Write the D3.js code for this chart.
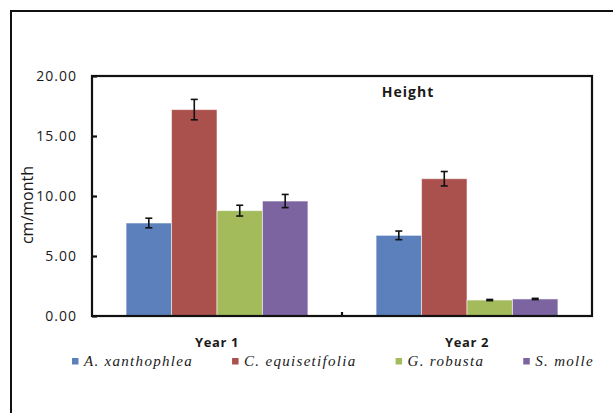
<!DOCTYPE html>
<html>
<head>
<meta charset="utf-8">
<script src="https://cdn.jsdelivr.net/npm/d3@7"></script>
<style>
  body { margin: 0; background: #fff; }
  svg text { font-family: "Open Sans", sans-serif; fill: #1a1a1a; }
</style>
</head>
<body>
<div id="chart"></div>
<script>
// data
const years = ["Year 1", "Year 2"];
const species = ["A. xanthophlea", "C. equisetifolia", "G. robusta", "S. molle"];
const speciesColors = ["#5b80bb", "#aa504d", "#a4bb5c", "#7b64a0"];
const year1Values = [7.75, 17.2, 8.78, 9.58];
const year1Errors = [0.4, 0.85, 0.45, 0.55];
const year2Values = [6.72, 11.44, 1.33, 1.42];
const year2Errors = [0.36, 0.6, 0.05, 0.05];
const yTicks = [0, 5, 10, 15, 20];
const yLabel = "cm/month";
const chartTitle = "Height";

const W = 613, H = 413;
const plot = { left: 92, right: 592, top: 76, bottom: 316 };

const svg = d3.select("#chart").append("svg")
  .attr("width", W).attr("height", H);

// outer frame (runs off the right and bottom edge)
svg.append("path")
  .attr("d", `M11,${H + 5}V11H${W + 5}`)
  .attr("fill", "none").attr("stroke", "#111").attr("stroke-width", 2);

const x = d3.scaleBand().domain(years).range([plot.left, plot.right]);
const xs = d3.scaleBand().domain(species).range([0, x.bandwidth()])
  .paddingInner(0).paddingOuter(0.75);
const y = d3.scaleLinear().domain([0, 20]).range([plot.bottom, plot.top]);

const rows = [];
years.forEach((yr, i) => {
  const vals = i === 0 ? year1Values : year2Values;
  const errs = i === 0 ? year1Errors : year2Errors;
  species.forEach((sp, j) => rows.push({ year: yr, sp, value: vals[j], err: errs[j], color: speciesColors[j] }));
});

// bars
svg.append("g").selectAll("rect").data(rows).join("rect")
  .attr("x", d => x(d.year) + xs(d.sp))
  .attr("width", xs.bandwidth())
  .attr("y", d => y(d.value))
  .attr("height", d => y(0) - y(d.value))
  .attr("fill", d => d.color)
  .attr("stroke", "rgba(255,255,255,0.55)")
  .attr("stroke-width", 1);

// error bars
const eb = svg.append("g").attr("stroke", "#111").attr("stroke-width", 1.6);
rows.forEach(d => {
  const cx = x(d.year) + xs(d.sp) + xs.bandwidth() / 2;
  const y1 = y(d.value + d.err), y2 = y(d.value - d.err);
  eb.append("line").attr("x1", cx).attr("x2", cx).attr("y1", y1).attr("y2", y2);
  eb.append("line").attr("x1", cx - 3.5).attr("x2", cx + 3.5).attr("y1", y1).attr("y2", y1);
  eb.append("line").attr("x1", cx - 3.5).attr("x2", cx + 3.5).attr("y1", y2).attr("y2", y2);
});

// plot area border
svg.append("rect")
  .attr("x", plot.left).attr("y", plot.top)
  .attr("width", plot.right - plot.left).attr("height", plot.bottom - plot.top)
  .attr("fill", "none").attr("stroke", "#111").attr("stroke-width", 2.2);

// y axis: ticks inside, labels outside
const yAxis = svg.append("g").attr("transform", `translate(${plot.left},0)`)
  .call(d3.axisRight(y).tickValues(yTicks).tickSize(5).tickFormat(""));
yAxis.select(".domain").remove();
yAxis.selectAll("line").attr("stroke", "#111").attr("stroke-width", 2.2);
svg.append("g").selectAll("text").data(yTicks).join("text")
  .attr("x", plot.left - 15).attr("y", d => y(d) + 5)
  .attr("text-anchor", "end")
  .style("font-size", "14px").style("letter-spacing", "1px")
  .text(d => d3.format(".2f")(d));

// x axis: tick between the categories, labels below
svg.append("g").selectAll("line").data(years.slice(1)).join("line")
  .attr("x1", d => x(d)).attr("x2", d => x(d))
  .attr("y1", plot.bottom).attr("y2", plot.bottom - 4)
  .attr("stroke", "#111").attr("stroke-width", 2.2);
svg.append("g").selectAll("text").data(years).join("text")
  .attr("x", d => x(d) + x.bandwidth() / 2).attr("y", 347)
  .attr("text-anchor", "middle")
  .style("font-size", "13px").style("font-weight", "bold").style("letter-spacing", "0.6px")
  .text(d => d);

// title
svg.append("text").attr("x", 408).attr("y", 97)
  .attr("text-anchor", "middle")
  .style("font-size", "14px").style("font-weight", "bold").style("letter-spacing", "1px")
  .text(chartTitle);

// y label
svg.append("text").attr("transform", "translate(33,205) rotate(-90)")
  .attr("text-anchor", "middle")
  .style("font-size", "16px")
  .text(yLabel);

// legend, spread from x=72 to x=594
const legend = svg.append("g");
const items = species.map((sp, i) => {
  const g = legend.append("g");
  g.append("rect").attr("x", 0).attr("y", -8).attr("width", 6.5).attr("height", 6.5)
    .attr("fill", speciesColors[i]);
  const t = g.append("text").attr("x", 12).attr("y", 0)
    .style("font-family", "'Liberation Serif', serif").style("font-style", "italic")
    .style("font-size", "15px").style("letter-spacing", "1.3px")
    .text(sp);
  return { g, w: 12 + t.node().getComputedTextLength() };
});
const total = d3.sum(items, d => d.w);
const gap = (594 - 72 - total) / (items.length - 1);
let lx = 72;
items.forEach(it => {
  it.g.attr("transform", `translate(${lx},366)`);
  lx += it.w + gap;
});
</script>
</body>
</html>
